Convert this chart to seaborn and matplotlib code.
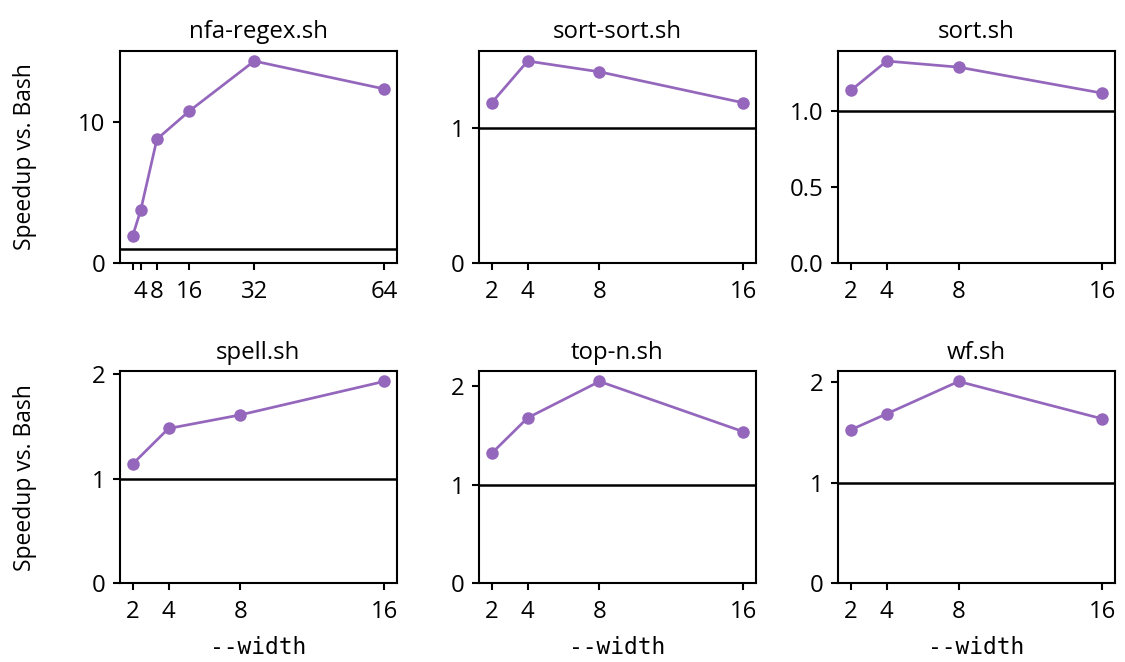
import matplotlib
matplotlib.use("Agg")
import matplotlib.pyplot as plt
import seaborn as sns
import pandas as pd

benchmarks = ["nfa-regex.sh", "sort-sort.sh", "sort.sh", "spell.sh", "top-n.sh", "wf.sh"]

widths_nfa = [2, 4, 8, 16, 32, 64]
widths_std = [2, 4, 8, 16]

speedup_nfa_regex = [1.9, 3.75, 8.8, 10.8, 14.35, 12.37]
speedup_sort_sort = [1.19, 1.50, 1.42, 1.19]
speedup_sort = [1.134, 1.327, 1.287, 1.116]
speedup_spell = [1.14, 1.48, 1.61, 1.93]
speedup_top_n = [1.32, 1.68, 2.05, 1.54]
speedup_wf = [1.527, 1.686, 2.008, 1.636]

series = {
    "nfa-regex.sh": (widths_nfa, speedup_nfa_regex),
    "sort-sort.sh": (widths_std, speedup_sort_sort),
    "sort.sh": (widths_std, speedup_sort),
    "spell.sh": (widths_std, speedup_spell),
    "top-n.sh": (widths_std, speedup_top_n),
    "wf.sh": (widths_std, speedup_wf),
}

yticks = {
    "nfa-regex.sh": [0, 10],
    "sort-sort.sh": [0, 1],
    "sort.sh": [0.0, 0.5, 1.0],
    "spell.sh": [0, 1, 2],
    "top-n.sh": [0, 1, 2],
    "wf.sh": [0, 1, 2],
}
ytick_labels = {
    "nfa-regex.sh": ["0", "10"],
    "sort-sort.sh": ["0", "1"],
    "sort.sh": ["0.0", "0.5", "1.0"],
    "spell.sh": ["0", "1", "2"],
    "top-n.sh": ["0", "1", "2"],
    "wf.sh": ["0", "1", "2"],
}
xtick_labels_nfa = ["", "4", "8", "16", "32", "64"]
xtick_labels_std = ["2", "4", "8", "16"]

baseline = 1.0

sns.set_style("ticks")
plt.rcParams["font.family"] = ["Open Sans", "DejaVu Sans"]
plt.rcParams.update({
    "font.size": 11,
    "axes.linewidth": 1.0,
    "xtick.major.size": 3.5,
    "ytick.major.size": 3.5,
    "xtick.major.width": 1.0,
    "ytick.major.width": 1.0,
    "xtick.major.pad": 4.5,
    "xtick.labelsize": 11.5,
    "ytick.labelsize": 11.5,
    "axes.titlesize": 11.5,
    "axes.labelsize": 11,
    "axes.edgecolor": "black",
    "xtick.color": "black",
    "ytick.color": "black",
    "text.color": "black",
    "axes.labelcolor": "black",
})

fig, axes = plt.subplots(2, 3, figsize=(7.5, 662 / 150), dpi=150)
fig.subplots_adjust(left=0.1067, right=0.991, top=0.923, bottom=0.119,
                    wspace=0.2985, hspace=0.512)

purple = "#9467bd"
for i, (ax, name) in enumerate(zip(axes.flat, benchmarks)):
    xs, ys = series[name]
    df = pd.DataFrame({"width": xs, "speedup": ys})
    sns.lineplot(data=df, x="width", y="speedup", ax=ax, color=purple,
                 marker="o", markersize=6, markeredgewidth=0, linewidth=1.3)
    ax.axhline(baseline, color="black", linewidth=1.2)
    ax.set_ylim(0, max(ys) * 1.05)
    ax.set_yticks(yticks[name])
    ax.set_yticklabels(ytick_labels[name])
    ax.set_xticks(xs)
    ax.set_xticklabels(xtick_labels_nfa if name == "nfa-regex.sh" else xtick_labels_std)
    ax.set_title(name, color="black")
    if i % 3 == 0:
        ax.set_ylabel("Speedup vs. Bash", color="black")
        ax.yaxis.set_label_coords(-0.30, 0.5)
    else:
        ax.set_ylabel("")
    if i >= 3:
        ax.set_xlabel("--width", family="DejaVu Sans Mono", color="black", labelpad=6)
    else:
        ax.set_xlabel("")

fig.savefig("out.png", dpi=150)
